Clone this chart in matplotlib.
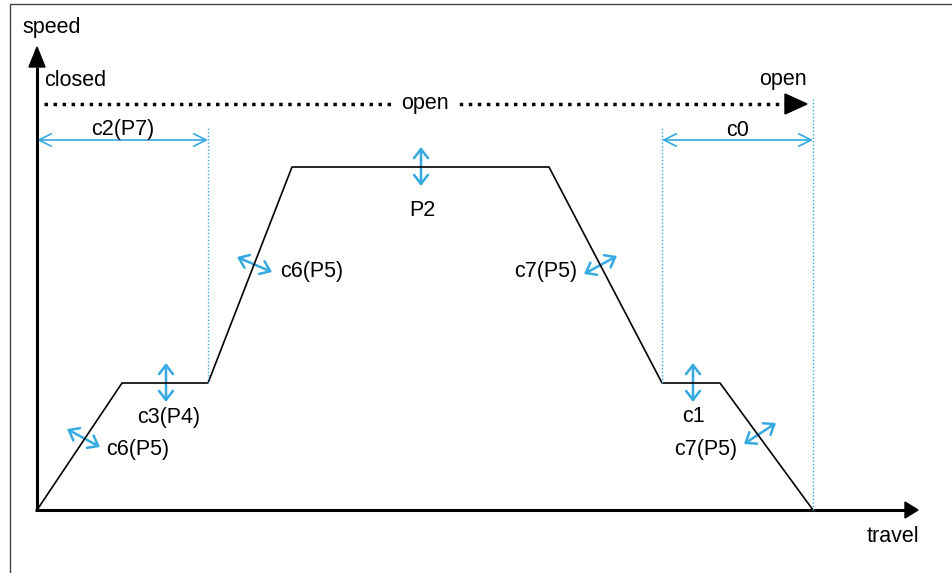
import matplotlib.pyplot as plt
from matplotlib.patches import FancyArrowPatch, Polygon

plt.rcParams['font.family'] = ['Liberation Sans', 'DejaVu Sans']

# Speed profile over the travel (diagram units, origin at the axes corner)
profile_travel = [0, 85, 171, 255, 512, 625, 683, 776]
profile_speed = [0, 127, 127, 343, 343, 127, 127, 0]

# Vertical adjust arrows (travel, speed centre) and their labels
vert_adjust_x = [129, 384, 656]
vert_adjust_y = [127, 343, 127]
vert_adjust_labels = ['c3(P4)', 'P2', 'c1']
vert_label_x = [132, 385, 656]
vert_label_y = [92, 299, 93]

# Slope adjust arrows (start and end points) and their labels
slope_start = [(30, 81), (200, 253), (547, 236), (707, 66)]
slope_end = [(63, 63), (235, 238), (580, 254), (739, 87)]
slope_labels = ['c6(P5)', 'c6(P5)', 'c7(P5)', 'c7(P5)']
slope_label_x = [69, 243, 540, 700]
slope_label_y = [60, 238, 238, 60]
slope_label_ha = ['left', 'left', 'right', 'right']

# Dimension lines at the top
dim_start = [0, 625]
dim_end = [171, 776]
dim_labels = ['c2(P7)', 'c0']
dim_level = 370

blue = '#35A9E1'
fs = 15.5

fig = plt.figure(figsize=(9.52, 5.73), dpi=100)
ax = fig.add_axes([0, 0, 1, 1])
ax.set_xlim(-37, 915)
ax.set_ylim(-63, 510)
ax.axis('off')

# outer frame
ax.plot([-27, -27, 915], [-63, 506, 506], color='#444444', lw=1)

# axes with arrow heads
ax.plot([0, 0], [0, 443], color='black', lw=2.2, solid_capstyle='butt')
ax.add_patch(Polygon([[-8, 443], [8, 443], [0, 463]], closed=True, color='black'))
ax.plot([-2, 868], [0, 0], color='black', lw=2.2, solid_capstyle='butt')
ax.add_patch(Polygon([[868, 8], [868, -8], [881, 0]], closed=True, color='black'))
ax.text(-15, 482, 'speed', fontsize=fs, ha='left', va='center')
ax.text(856, -27, 'travel', fontsize=fs, ha='center', va='center')

# closed -> open direction line
ax.plot([7, 748], [406, 406], color='black', lw=2.5, linestyle=(0, (1, 1.6)))
ax.add_patch(Polygon([[748, 416], [748, 396], [770, 406]], closed=True, color='black'))
ax.text(7, 430, 'closed', fontsize=fs, ha='left', va='center')
ax.text(770, 430, 'open', fontsize=fs, ha='right', va='center')
ax.text(388, 406, 'open', fontsize=fs, ha='center', va='center',
        bbox=dict(facecolor='white', edgecolor='none', pad=5))

# speed profile
ax.plot(profile_travel, profile_speed, color='black', lw=1.2)

# dotted guide lines
ax.plot([171, 171], [127, 382], color=blue, lw=1, linestyle=(0, (1, 1.5)))
ax.plot([625, 625], [127, 382], color=blue, lw=1, linestyle=(0, (1, 1.5)))
ax.plot([776, 776], [0, 412], color=blue, lw=1, linestyle=(0, (1, 1.5)))

# dimension lines
for x0, x1, lab in zip(dim_start, dim_end, dim_labels):
    ax.add_patch(FancyArrowPatch((x0, dim_level), (x1, dim_level),
                                 arrowstyle='<->,head_length=9,head_width=4.5',
                                 mutation_scale=1, color=blue, lw=1.2,
                                 shrinkA=0, shrinkB=0))
    ax.text((x0 + x1) / 2, dim_level + 10, lab, fontsize=fs, ha='center', va='center')

# vertical adjust arrows
for x, y, lab, lx, ly in zip(vert_adjust_x, vert_adjust_y, vert_adjust_labels,
                             vert_label_x, vert_label_y):
    ax.add_patch(FancyArrowPatch((x, y - 19), (x, y + 20),
                                 arrowstyle='<->,head_length=6.5,head_width=5',
                                 mutation_scale=1, color=blue, lw=1.8,
                                 shrinkA=0, shrinkB=0))
    ax.text(lx, ly, lab, fontsize=fs, ha='center', va='center')

# slope adjust arrows
for p0, p1, lab, lx, ly, ha in zip(slope_start, slope_end, slope_labels,
                                   slope_label_x, slope_label_y, slope_label_ha):
    ax.add_patch(FancyArrowPatch(p0, p1,
                                 arrowstyle='<->,head_length=6.5,head_width=5',
                                 mutation_scale=1, color=blue, lw=1.8,
                                 shrinkA=0, shrinkB=0))
    ax.text(lx, ly, lab, fontsize=fs, ha=ha, va='center')

fig.savefig('out.png', dpi=100)
